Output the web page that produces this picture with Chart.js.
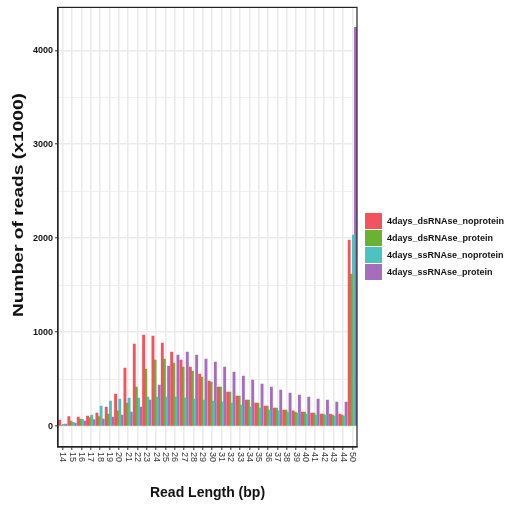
<!DOCTYPE html>
<html>
<head>
<meta charset="utf-8">
<script src="https://cdn.jsdelivr.net/npm/chart.js@4.4.0/dist/chart.umd.min.js"></script>
<style>
  body { margin: 0; background: #fff; }
  canvas { display: block; }
</style>
</head>
<body>
<canvas id="reads-chart" width="513" height="508"></canvas>
<script>
// read lengths on the x axis
var readLengths = ["14","15","16","17","18","19","20","21","22","23","24","25","26","27","28","29",
                   "30","31","32","33","34","35","36","37","38","39","40","41","42","43","44","50"];

// number of reads (x1000)
var dsNoprotein = [64, 99, 96, 106, 138, 202, 340, 617, 872, 968, 957, 883, 787, 702, 628, 553,
                   479, 415, 362, 319, 277, 245, 213, 191, 170, 160, 149, 138, 128, 128, 128, 1979];
var dsProtein   = [10, 53, 74, 89, 99, 128, 160, 245, 415, 606, 702, 713, 670, 628, 585, 521,
                   468, 415, 362, 319, 277, 245, 213, 191, 170, 149, 149, 138, 128, 117, 117, 1617];
var ssNoprotein = [18, 39, 71, 117, 213, 266, 287, 298, 298, 309, 309, 309, 309, 298, 287, 277,
                   266, 255, 245, 223, 202, 191, 170, 160, 149, 138, 128, 117, 117, 106, 106, 2032];
var ssProtein   = [21, 32, 53, 67, 74, 96, 117, 149, 202, 277, 436, 638, 755, 787, 755, 713,
                   681, 628, 574, 532, 489, 447, 415, 383, 351, 330, 309, 287, 277, 255, 255, 4245];

var seriesNames  = ["4days_dsRNAse_noprotein", "4days_dsRNAse_protein", "4days_ssRNAse_noprotein", "4days_ssRNAse_protein"];
var seriesColors = ["#F2545F", "#6BB233", "#4CC3C1", "#A66DBE"];

var yTicks = [0, 500, 1000, 1500, 2000, 2500, 3000, 3500, 4000];

var FONT = "'Liberation Sans', Arial, sans-serif";

// frame, rotated x labels, y title and the legend
var extras = {
    id: "extras",
    afterDraw: function(chart) {
        var ctx = chart.ctx;
        var area = chart.chartArea;
        var xs = chart.scales.x;

        ctx.save();
        ctx.strokeStyle = "#222";
        ctx.lineWidth = 1.2;
        ctx.strokeRect(area.left, area.top, area.right - area.left, area.bottom - area.top);

        // x labels read top to bottom
        ctx.fillStyle = "#333";
        ctx.font = "9px " + FONT;
        ctx.textAlign = "left";
        ctx.textBaseline = "middle";
        for (var i = 0; i < readLengths.length; i++) {
            var px = xs.getPixelForValue(i);
            ctx.save();
            ctx.translate(px, area.bottom + 5);
            ctx.rotate(Math.PI / 2);
            ctx.fillText(readLengths[i], 0, 0);
            ctx.restore();
        }

        // y title, stretched a bit like the original
        var yTitle = "Number of reads (x1000)";
        ctx.save();
        ctx.font = "bold 15px " + FONT;
        ctx.fillStyle = "#111";
        ctx.textAlign = "center";
        ctx.textBaseline = "middle";
        var w = ctx.measureText(yTitle).width;
        ctx.translate(18.5, 205);
        ctx.rotate(-Math.PI / 2);
        ctx.scale(224 / w, 1);
        ctx.fillText(yTitle, 0, 0);
        ctx.restore();

        // legend
        ctx.font = "bold 9px " + FONT;
        for (var k = 0; k < seriesNames.length; k++) {
            var top = 213 + k * 17;
            ctx.fillStyle = seriesColors[k];
            ctx.fillRect(365, top, 17, 16);
            ctx.fillStyle = "#111";
            ctx.fillText(seriesNames[k], 387, top + 8.5);
        }
        ctx.restore();
    }
};

var datasets = [dsNoprotein, dsProtein, ssNoprotein, ssProtein].map(function(vals, i) {
    return {
        label: seriesNames[i],
        data: vals,
        backgroundColor: seriesColors[i],
        borderWidth: 0,
        inflateAmount: 0.4,
        categoryPercentage: 0.9,
        barPercentage: 1.0
    };
});

new Chart(document.getElementById("reads-chart"), {
    type: "bar",
    data: { labels: readLengths, datasets: datasets },
    plugins: [extras],
    options: {
        responsive: false,
        animation: false,
        layout: { padding: { top: 7, right: 156, bottom: 0, left: 0 } },
        plugins: {
            legend: { display: false },
            tooltip: { enabled: false }
        },
        scales: {
            x: {
                offset: true,
                afterFit: function(scale) { scale.height = 61; },
                grid: {
                    offset: false,
                    color: "#EBEBEB",
                    lineWidth: 1.6,
                    tickColor: "#333",
                    tickWidth: 1,
                    tickLength: 3
                },
                border: { display: true, color: "#222", width: 1.2 },
                ticks: { display: false },
                title: {
                    display: true,
                    text: "Read Length (bp)",
                    color: "#111",
                    font: { family: FONT, size: 14, weight: "bold" },
                    padding: { top: 0, bottom: 6 }
                }
            },
            y: {
                min: -223,
                max: 4457,
                afterFit: function(scale) { scale.width = 58; },
                afterBuildTicks: function(scale) {
                    scale.ticks = yTicks.map(function(v) { return { value: v }; });
                },
                grid: {
                    color: "#EBEBEB",
                    lineWidth: function(c) { return c.tick && c.tick.value % 1000 === 0 ? 1.6 : 0.8; },
                    tickColor: function(c) { return c.tick && c.tick.value % 1000 === 0 ? "#333" : "rgba(0,0,0,0)"; },
                    tickWidth: 1,
                    tickLength: 3
                },
                border: { display: true, color: "#222", width: 1.2 },
                ticks: {
                    padding: 2,
                    color: "#111",
                    font: { family: FONT, size: 9, weight: "bold" },
                    callback: function(v) { return v % 1000 === 0 ? v : ""; }
                }
            }
        }
    }
});
</script>
</body>
</html>
